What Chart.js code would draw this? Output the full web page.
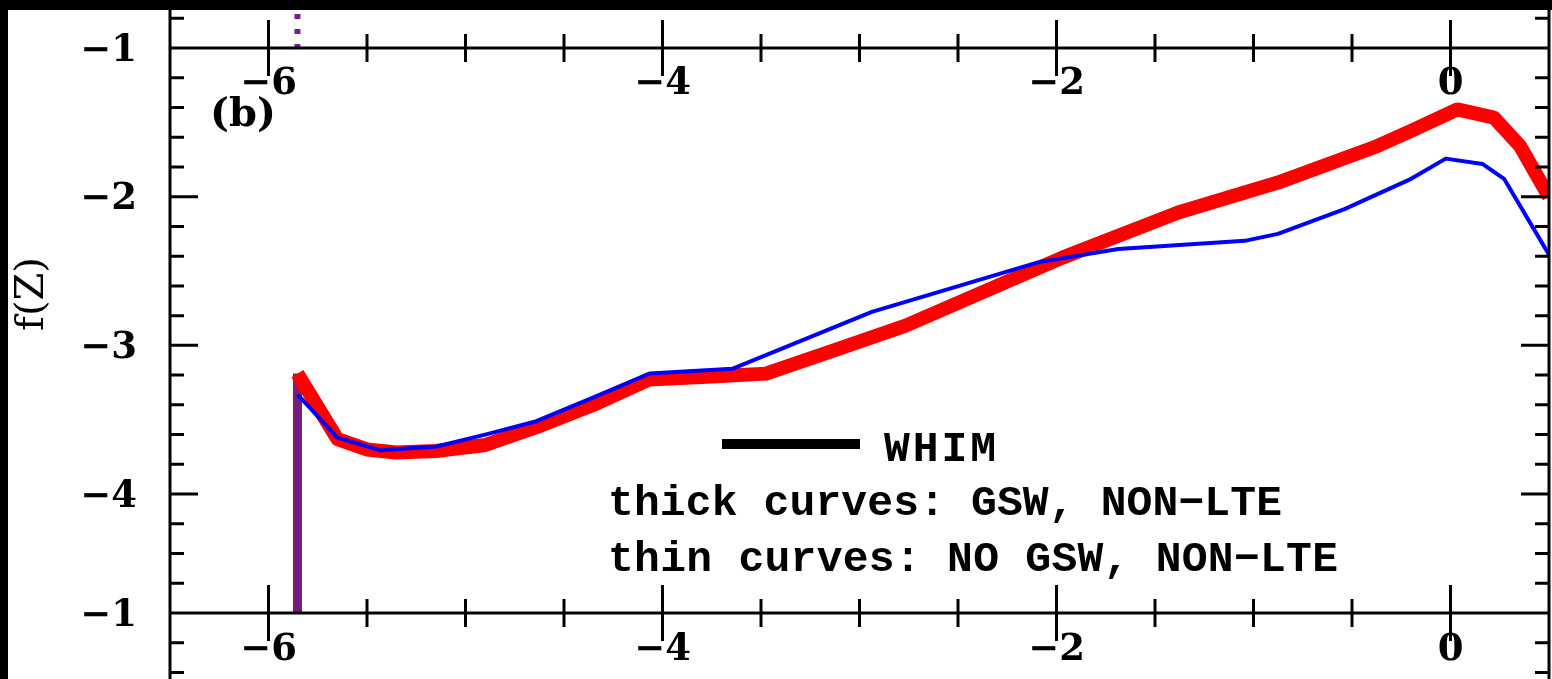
<!DOCTYPE html>
<html>
<head>
<meta charset="utf-8">
<script src="https://cdn.jsdelivr.net/npm/chart.js@4.4.1/dist/chart.umd.min.js"></script>
<style>
  html, body { margin: 0; padding: 0; background: #000; }
  #wrap { width: 1552px; height: 679px; }
</style>
</head>
<body>
<div id="wrap"><canvas id="chart"></canvas></div>
<script>
// thick red curve: GSW, NON-LTE
const gswZ = [-5.853, -5.853, -5.65, -5.5, -5.35, -5.15, -4.9, -4.64, -4.35, -4.07, -3.75, -3.475,
              -3.1, -2.766, -2.26, -1.97, -1.686, -1.382, -0.876, -0.37, -0.2, 0.035, 0.22, 0.353, 0.5];
const gswF = [-4.8, -3.19, -3.63, -3.70, -3.72, -3.71, -3.67, -3.55, -3.40, -3.23, -3.21, -3.19,
              -3.02, -2.867, -2.576, -2.41, -2.263, -2.106, -1.905, -1.659, -1.558, -1.413, -1.468, -1.659, -2.0];

// thin blue curve: NO GSW, NON-LTE
const noGswZ = [-5.853, -5.853, -5.65, -5.43, -5.146, -4.9, -4.64, -4.35, -4.066, -3.646, -2.937,
                -2.09, -1.686, -1.045, -0.876, -0.538, -0.2, -0.024, 0.162, 0.272, 0.5];
const noGswF = [-4.8, -3.33, -3.62, -3.706, -3.68, -3.60, -3.51, -3.35, -3.19, -3.158, -2.775,
                -2.44, -2.352, -2.297, -2.25, -2.084, -1.88, -1.744, -1.78, -1.88, -2.39];

// tail of the panel above, running past the shared axis
const upperZ = [-5.853, -5.853];
const upperF = [-1.0, -0.74];

const xTicks = [-6, -4, -2, 0];
const xTickLabels = ['−6', '−4', '−2', '0'];
const yTicks = [-1, -2, -3, -4];
const yTickLabels = ['−1', '−2', '−3', '−4'];
// top of the panel below, labelled on its own scale
const lowerTop = -4.8;
const lowerTopLabel = '−1';

const legendLines = ['thick curves: GSW, NON−LTE', 'thin curves: NO GSW, NON−LTE'];

const pts = (xs, ys) => xs.map((x, i) => ({ x, y: ys[i] }));
const vertical = c => c.p0.parsed.x === c.p1.parsed.x;

function spaced(ctx, text, x, yb, width) {
  ctx.letterSpacing = '0px';
  const w = ctx.measureText(text).width;
  ctx.letterSpacing = ((width - w) / (text.length - 1)) + 'px';
  ctx.fillText(text, x, yb);
  ctx.letterSpacing = '0px';
}

const frame = {
  id: 'frame',
  beforeDraw(chart) {
    const c = chart.ctx;
    c.save();
    c.fillStyle = '#000';
    c.fillRect(0, 0, chart.width, chart.height);
    c.fillStyle = '#fff';
    c.fillRect(8, 10, chart.width - 8, chart.height - 10);
    c.restore();
  },
  afterDraw(chart) {
    const { ctx, chartArea: a, scales: { x, y } } = chart;
    const yTop = y.getPixelForValue(-1);
    const yBot = y.getPixelForValue(lowerTop);
    ctx.save();
    ctx.strokeStyle = '#000';
    ctx.lineWidth = 3;
    ctx.beginPath();
    ctx.moveTo(a.left, 10); ctx.lineTo(a.left, chart.height);
    ctx.moveTo(a.right, 10); ctx.lineTo(a.right, chart.height);
    ctx.moveTo(a.left, yTop); ctx.lineTo(a.right, yTop);
    ctx.moveTo(a.left, yBot); ctx.lineTo(a.right, yBot);

    // y ticks every 0.2, running on into the panels above and below
    for (let k = 4; k <= 26; k++) {
      const major = (k <= 20 && k % 5 === 0) || k === 24;
      const len = major ? 28 : 14;
      const py = y.getPixelForValue(-k / 5);
      ctx.moveTo(a.left, py); ctx.lineTo(a.left + len, py);
      ctx.moveTo(a.right - len, py); ctx.lineTo(a.right, py);
    }
    // x ticks every 0.5 on both shared axes
    for (let k = -12; k <= 0; k++) {
      const v = k / 2;
      const len = v % 2 === 0 ? 28 : 14;
      const px = x.getPixelForValue(v);
      for (const py of [yTop, yBot]) {
        ctx.moveTo(px, py - len); ctx.lineTo(px, py + len);
      }
    }
    ctx.stroke();

    ctx.fillStyle = '#000';
    ctx.font = 'bold 37px "DejaVu Serif"';
    ctx.textAlign = 'right';
    ctx.textBaseline = 'middle';
    yTicks.forEach((v, i) => ctx.fillText(yTickLabels[i], a.left - 33, y.getPixelForValue(v) + 3));
    ctx.fillText(lowerTopLabel, a.left - 33, yBot + 3);

    ctx.textAlign = 'center';
    xTicks.forEach((v, i) => {
      const px = x.getPixelForValue(v);
      ctx.fillText(xTickLabels[i], px, yTop + 36);
      ctx.fillText(xTickLabels[i], px, yBot + 37);
    });

    ctx.textAlign = 'left';
    ctx.font = 'bold 40px "DejaVu Serif"';
    ctx.fillText('(b)', 210, 116);

    ctx.save();
    ctx.translate(33, 294);
    ctx.rotate(-Math.PI / 2);
    ctx.textAlign = 'center';
    ctx.font = '40px "DejaVu Serif"';
    ctx.fillText('f(Z)', 0, 0);
    ctx.restore();

    // legend
    ctx.lineWidth = 10;
    ctx.beginPath();
    ctx.moveTo(722, 444); ctx.lineTo(860, 444);
    ctx.stroke();
    ctx.font = 'bold 43px "Liberation Mono"';
    ctx.textBaseline = 'alphabetic';
    spaced(ctx, 'WHIM', 884, 461, 112);
    spaced(ctx, legendLines[0], 608, 515, 674);
    spaced(ctx, legendLines[1], 608, 571, 730);
    ctx.restore();
  }
};

new Chart(document.getElementById('chart'), {
  type: 'scatter',
  data: {
    datasets: [
      {
        label: 'NO GSW, NON-LTE',
        data: pts(noGswZ, noGswF),
        showLine: true,
        borderColor: '#0000ff',
        borderWidth: 4,
        borderJoinStyle: 'round',
        order: 0,
        segment: {
          borderColor: c => vertical(c) ? '#6a1f8a' : undefined
        }
      },
      {
        label: 'GSW, NON-LTE',
        data: pts(gswZ, gswF),
        showLine: true,
        borderColor: '#ff0000',
        borderWidth: 14,
        borderJoinStyle: 'round',
        order: 1,
        segment: {
          borderColor: c => vertical(c) ? '#86196e' : undefined,
          borderWidth: c => vertical(c) ? 9 : undefined
        }
      },
      {
        label: 'upper panel',
        data: pts(upperZ, upperF),
        showLine: true,
        borderColor: '#7a1f8f',
        borderWidth: 6,
        borderDash: [5, 10],
        borderDashOffset: 1,
        clip: false,
        order: 2
      }
    ]
  },
  options: {
    responsive: true,
    maintainAspectRatio: false,
    animation: false,
    layout: { padding: { left: 170, top: 48, right: 3, bottom: 66 } },
    elements: { point: { radius: 0 } },
    scales: {
      x: { type: 'linear', min: -6.5, max: 0.5, display: false },
      y: { type: 'linear', min: lowerTop, max: -1, display: false }
    },
    plugins: {
      legend: { display: false },
      tooltip: { enabled: false }
    }
  },
  plugins: [frame]
});
</script>
</body>
</html>
